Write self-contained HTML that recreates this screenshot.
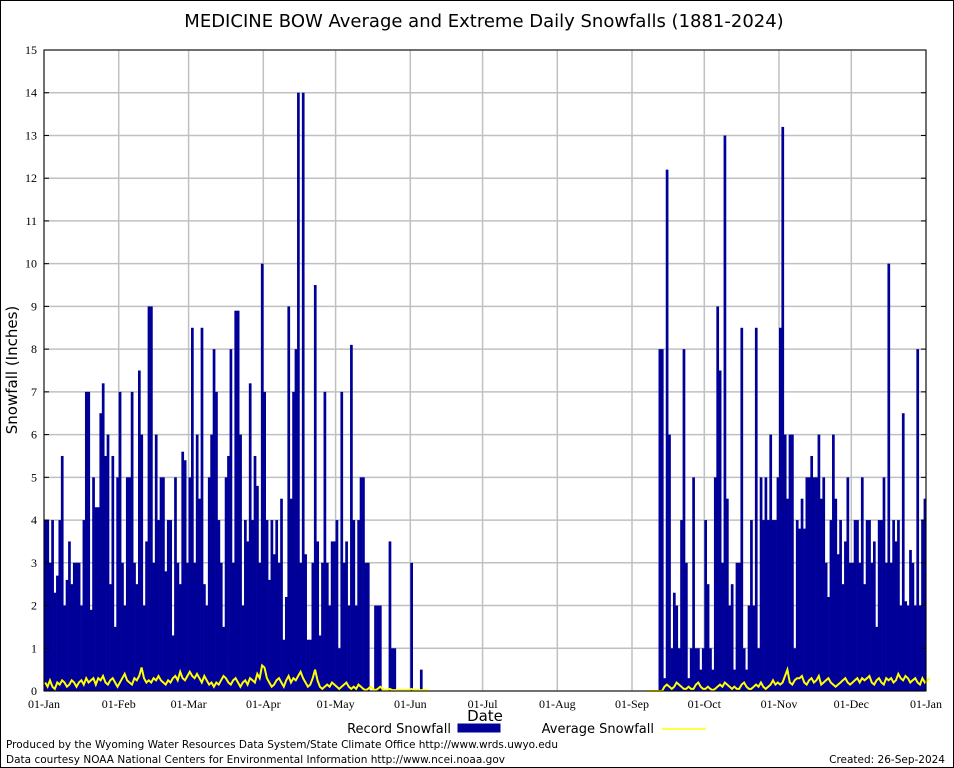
<!DOCTYPE html>
<html><head><meta charset="utf-8"><style>
html,body{margin:0;padding:0;background:#fff;}
svg{display:block;font-family:"DejaVu Sans","Liberation Sans",sans-serif;}
.tick{font-family:"Liberation Serif",serif;}
</style></head><body>
<svg id="chart" width="954" height="768" viewBox="0 0 954 768">
<rect x="0.5" y="0.5" width="953" height="767" fill="#fff" stroke="#000" stroke-width="1"/>
<text x="484" y="27" font-size="18" text-anchor="middle">MEDICINE BOW Average and Extreme Daily Snowfalls (1881-2024)</text>
<g id="grid"></g><g id="bars"></g><g id="avg"></g><g id="axes"></g>
<text transform="translate(17,370) rotate(-90)" font-size="15" text-anchor="middle">Snowfall (Inches)</text>
<text x="485" y="721" font-size="15" text-anchor="middle">Date</text>
<g>
<text x="451" y="733" font-size="13" text-anchor="end">Record Snowfall</text>
<rect x="458" y="724" width="42" height="8" fill="#000099" stroke="#000099"/>
<text x="654" y="733" font-size="13" text-anchor="end">Average Snowfall</text>
<line x1="662" y1="729" x2="706" y2="729" stroke="#ffff00" stroke-width="1.5"/>
</g>
<text x="6" y="748" font-size="10.5" textLength="552">Produced by the Wyoming Water Resources Data System/State Climate Office http://www.wrds.uwyo.edu</text>
<text x="6" y="763" font-size="10.5" textLength="499">Data courtesy NOAA National Centers for Environmental Information http://www.ncei.noaa.gov</text>
<text x="945" y="763" font-size="10.5" text-anchor="end">Created:  26-Sep-2024</text>
</svg>
<script>
const monthLabels=["01-Jan","01-Feb","01-Mar","01-Apr","01-May","01-Jun","01-Jul","01-Aug","01-Sep","01-Oct","01-Nov","01-Dec","01-Jan"];
const monthStartDays=[0,31,60,91,121,152,182,213,244,274,305,335,366];
const yTicks=[0,1,2,3,4,5,6,7,8,9,10,11,12,13,14,15];
const recordWinter=[4,4,3,4,2.3,2.7,4,5.5,2,2.6,3.5,2.5,3,3,3,2,4,7,7,1.9,5,4.3,4.3,6.5,7.2,5.5,6,2.5,5.5,1.5,5,7,3,2,5,5,7,3,2.5,7.5,6,2,3.5,9,9,3,6,4,5,5,2.8,4,4,1.3,5,3,2.5,5.6,5.4,3,5,8.5,3,6,4.5,8.5,2.5,2,5,6,8,7,4,3,1.5,5,5.5,8,3,8.9,8.9,6,2,4,3.5,7.2,4,5.5,4.8,3,10,7,4,2.6,4,3.2,4,3,4.5,1.2,2.2,9,4.5,7,8,14,3,14,3.2,1.2,1.2,3,9.5,3.5,1.3,3,7,3,2,3.5,3.5,4,1,7,3,3.5,2,8.1,4,2,4,5,5,3,3,0,0,2,2,2,0,0,0,3.5,1,1,0,0,0,0,0,0,3,0,0,0,0.5,0,0,0];
const recordFall=[0,0,0,0,0,8,8,0.3,12.2,6,1,2.3,2,1,4,8,3,0.3,1,5,1,1,0.5,1,4,2.5,1,0.5,5,9,7.5,3,13,4.5,2,2.5,0.5,3,3,8.5,1,0.5,2,4,2,8.5,1,5,4,5,4,6,4,4,5,8.5,13.2,6,4.5,6,6,1,4,3.8,4.5,3.8,5,5,5.5,5,5,6,4.5,5,3,2.2,4,6,4.5,3.2,4,2.5,3.5,5,3,3,4,4,3,5,2.5,4,4,3,3.5,1.5,4,4,5,3,10,3,4,3.5,4,2,6.5,2.1,2,3.3,3,2,8,2,4,4.5];
const avgWinter=[0.2,0.1,0.25,0.1,0.05,0.2,0.15,0.25,0.2,0.1,0.15,0.25,0.2,0.1,0.2,0.25,0.15,0.3,0.2,0.25,0.3,0.15,0.3,0.25,0.35,0.2,0.15,0.25,0.3,0.2,0.1,0.2,0.3,0.4,0.25,0.2,0.15,0.3,0.25,0.35,0.55,0.3,0.2,0.25,0.2,0.3,0.25,0.35,0.25,0.2,0.15,0.25,0.2,0.3,0.35,0.25,0.45,0.3,0.25,0.35,0.45,0.35,0.3,0.4,0.3,0.2,0.35,0.25,0.15,0.2,0.1,0.2,0.15,0.25,0.35,0.3,0.2,0.15,0.25,0.3,0.2,0.1,0.2,0.25,0.15,0.3,0.25,0.2,0.4,0.3,0.6,0.55,0.3,0.2,0.1,0.15,0.25,0.3,0.2,0.1,0.25,0.35,0.2,0.3,0.25,0.35,0.45,0.3,0.2,0.1,0.15,0.3,0.5,0.25,0.1,0.05,0.1,0.15,0.1,0.2,0.15,0.1,0.05,0.1,0.15,0.2,0.1,0.05,0.1,0.05,0.15,0.1,0.05,0.02,0.05,0.1,0.05,0.02,0.05,0.1,0.05,0.02,0.02,0.05,0.02,0.02,0.02,0.02,0.02,0.02,0.02,0.02,0.05,0.02,0.02,0.02,0.02,0.02,0.02,0.02,0.02,0.02];
const avgFall=[0,0,0,0,0,0.1,0.15,0.1,0.05,0.1,0.2,0.15,0.1,0.05,0.05,0.1,0.05,0.05,0.15,0.2,0.1,0.05,0.05,0.1,0.05,0.02,0.05,0.1,0.15,0.1,0.2,0.15,0.1,0.05,0.1,0.05,0.05,0.15,0.2,0.1,0.05,0.05,0.1,0.15,0.1,0.2,0.1,0.05,0.1,0.15,0.25,0.15,0.2,0.15,0.2,0.35,0.5,0.2,0.15,0.25,0.3,0.3,0.35,0.2,0.15,0.25,0.3,0.2,0.25,0.35,0.15,0.2,0.25,0.3,0.2,0.15,0.1,0.15,0.2,0.25,0.3,0.2,0.15,0.2,0.25,0.3,0.2,0.3,0.25,0.3,0.35,0.2,0.15,0.25,0.3,0.2,0.15,0.3,0.25,0.3,0.2,0.25,0.4,0.3,0.25,0.35,0.3,0.2,0.25,0.3,0.2,0.15,0.3,0.2,0.25,0.3];
const summerDays=366-recordWinter.length-recordFall.length;
const recordSnow=recordWinter.concat(new Array(summerDays).fill(0),recordFall);
const avgSnow=avgWinter.concat(new Array(summerDays).fill(0),avgFall);

const X0=44,X1=926,Y0=691,Y1=50,NS="http://www.w3.org/2000/svg";
const xScale=d=>X0+(X1-X0)*d/366;
const yScale=v=>Y0-(Y0-Y1)*v/15;
function mk(tag,attrs,parent){const e=document.createElementNS(NS,tag);for(const k in attrs)e.setAttribute(k,attrs[k]);parent.appendChild(e);return e;}
const grid=document.getElementById('grid'),bars=document.getElementById('bars'),avg=document.getElementById('avg'),axes=document.getElementById('axes');
yTicks.forEach(t=>{
  const y=yScale(t);
  const l=mk('line',{x1:X0,x2:X1,y1:y,y2:y,stroke:'#c0c0c0','stroke-width':1.5},grid);
  
  
  mk('line',{x1:X0,x2:X0+5,y1:y,y2:y,stroke:'#000'},axes);
  mk('line',{x1:X1-5,x2:X1,y1:y,y2:y,stroke:'#000'},axes);
  const tx=mk('text',{x:37,y:y+4,'font-size':12,'text-anchor':'end',class:'tick'},axes);
  tx.textContent=t;
  
  
});
monthStartDays.forEach((d,i)=>{
  const x=xScale(d);
  const l=mk('line',{x1:x,x2:x,y1:Y1,y2:Y0,stroke:'#c0c0c0','stroke-width':1.5},grid);
  
  
  const tx=mk('text',{x:x,y:708,'font-size':12,'text-anchor':'middle',class:'tick'},axes);
  tx.textContent=monthLabels[i];
  
  
});
const bw=(X1-X0)/366;
recordSnow.forEach((v,d)=>{
  if(v<=0)return;
  const r=mk('rect',{x:xScale(d),y:yScale(v),width:bw+0.3,height:Y0-yScale(v),fill:'#000099'},bars);
  
  
});
let pts=[];
avgSnow.forEach((v,d)=>{if(d<160||d>=250)pts.push(xScale(d+0.5).toFixed(1)+','+yScale(v).toFixed(1));});
const segA=pts.slice(0,160).join(' '),segB=pts.slice(160).join(' ');
[segA,segB].forEach(s=>{
  const p=mk('polyline',{points:s,fill:'none',stroke:'#ffff00','stroke-width':2},avg);
  
  
});
const fr=mk('rect',{x:X0,y:Y1,width:X1-X0,height:Y0-Y1,fill:'none',stroke:'#000','stroke-width':1},axes);


</script>
</body></html>
